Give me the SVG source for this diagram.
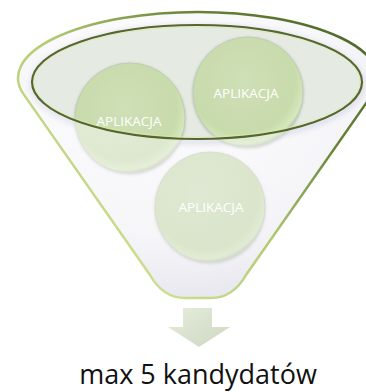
<svg xmlns="http://www.w3.org/2000/svg" width="366" height="392" viewBox="0 0 366 392">
  <defs>
    <radialGradient id="bodyFill" cx="0.5" cy="0.35" r="0.65">
      <stop offset="0" stop-color="#ffffff"/>
      <stop offset="0.7" stop-color="#f7f7fa"/>
      <stop offset="1" stop-color="#e2e2ea"/>
    </radialGradient>
    <linearGradient id="rimStroke" gradientUnits="userSpaceOnUse" x1="80" y1="290" x2="330" y2="20">
      <stop offset="0" stop-color="#d8e79c"/>
      <stop offset="0.45" stop-color="#b3ca74"/>
      <stop offset="0.75" stop-color="#6a8538"/>
      <stop offset="1" stop-color="#4f6a2a"/>
    </linearGradient>
    <radialGradient id="ballFill" cx="0.45" cy="0.4" r="0.6">
      <stop offset="0" stop-color="#cfdfb7"/>
      <stop offset="0.8" stop-color="#c8dbab"/>
      <stop offset="0.95" stop-color="#d6e8bc"/>
      <stop offset="1" stop-color="#c0cbb2"/>
    </radialGradient>
    <linearGradient id="overlayFill" x1="0" y1="0" x2="1" y2="1">
      <stop offset="0" stop-color="#ffffff" stop-opacity="0.55"/>
      <stop offset="0.6" stop-color="#f4f4f8" stop-opacity="0.42"/>
      <stop offset="1" stop-color="#e6e6ee" stop-opacity="0.42"/>
    </linearGradient>
    <linearGradient id="arrowFill" x1="0" y1="0" x2="1" y2="1">
      <stop offset="0" stop-color="#e6ecdd"/>
      <stop offset="1" stop-color="#ccd8c0"/>
    </linearGradient>
    <filter id="ballShadow" x="-20%" y="-20%" width="140%" height="140%">
      <feDropShadow dx="0" dy="1" stdDeviation="1.6" flood-color="#6f7468" flood-opacity="0.45"/>
    </filter>
    <filter id="soft" x="-10%" y="-10%" width="120%" height="120%">
      <feGaussianBlur stdDeviation="2"/>
    </filter>
  </defs>
  <style>
    .ball { fill: url(#ballFill); stroke: #c2ccb6; stroke-width: 1; filter: url(#ballShadow); }
    .lbl { font-family: "Open Sans", "Liberation Sans", sans-serif; font-size: 13.5px; fill: #ffffff; text-anchor: middle; }
    .caption { font-family: "Open Sans", "Liberation Sans", sans-serif; font-size: 27px; fill: #111111; text-anchor: middle; }
  </style>

  <g id="funnel">
    <path d="M 23.7 94.4 A 180 66 0 1 1 372.3 94.4 L 246 275 Q 233 298 211 298 L 185 298 Q 163 298 150 275 Z" fill="url(#bodyFill)"/>
    <ellipse cx="197" cy="84" rx="166" ry="58" fill="none" stroke="#d6d6e2" stroke-width="6" filter="url(#soft)"/>
    <ellipse cx="197" cy="82" rx="165" ry="57" fill="#e5ebe3"/>
  </g>

  <g id="app1">
    <circle class="ball" cx="130" cy="118" r="55"/>
  </g>
  <g id="app2">
    <circle class="ball" cx="248" cy="92" r="55"/>
  </g>
  <g id="app3">
    <circle class="ball" cx="210" cy="207" r="55"/>
  </g>

  <g id="funnel-front">
    <path fill-rule="evenodd" fill="url(#overlayFill)" d="M 23.7 94.4 A 180 66 0 1 1 372.3 94.4 L 246 275 Q 233 298 211 298 L 185 298 Q 163 298 150 275 Z M 32 82 A 165 57 0 1 0 362 82 A 165 57 0 1 0 32 82 Z"/>
    <path d="M 23.7 94.4 A 180 66 0 1 1 372.3 94.4 L 246 275 Q 233 298 211 298 L 185 298 Q 163 298 150 275 Z" fill="none" stroke="url(#rimStroke)" stroke-width="2.5"/>
    <ellipse cx="197" cy="82" rx="165" ry="57" fill="none" stroke="#55672f" stroke-width="2.2"/>
    <ellipse cx="197" cy="82" rx="163" ry="55" fill="none" stroke="#dce9a6" stroke-width="0.8" opacity="0.8"/>
  </g>

  <g id="labels">
    <text class="lbl" x="129" y="126">APLIKACJA</text>
    <text class="lbl" x="246" y="98">APLIKACJA</text>
    <text class="lbl" x="211" y="212">APLIKACJA</text>
  </g>

  <g id="connectors">
    <path d="M 183 308 L 212 308 L 212 327 L 230 327 L 199 347 L 168 327 L 183 327 Z" fill="url(#arrowFill)"/>
  </g>

  <g id="result">
    <text class="caption" x="198" y="384">max 5 kandydatów</text>
  </g>
</svg>
